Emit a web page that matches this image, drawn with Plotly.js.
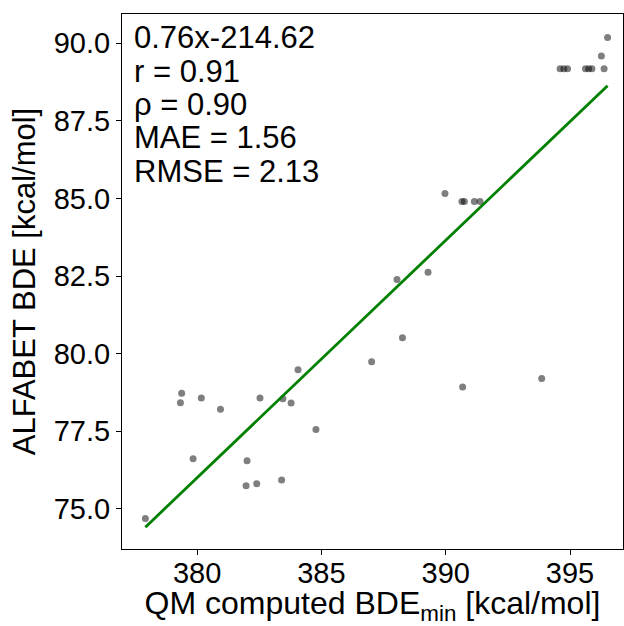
<!DOCTYPE html>
<html>
<head>
<meta charset="utf-8">
<script src="https://cdn.plot.ly/plotly-3.0.1.min.js"></script>
<style>
  html, body { margin: 0; padding: 0; background: #fff; }
  #chart { width: 624px; height: 626px; }
</style>
</head>
<body>
<div id="chart"></div>
<script>
// QM computed minimum BDE (kcal/mol) for each molecule
const qmBde = [
  377.92, 379.38, 379.33, 380.17, 380.94, 379.84, 382.53, 383.45, 383.78, 384.06,
  384.78, 382.01, 381.97, 382.40, 383.40,
  389.97, 390.65, 390.75, 391.15, 391.38, 388.04, 389.29, 388.26, 387.02, 390.68, 393.86,
  396.51, 396.26, 394.60, 394.75, 394.90, 395.62, 395.75, 395.88, 396.37
];
// ALFABET predicted BDE (kcal/mol) for the same molecules
const alfabetBde = [
  74.69, 78.73, 78.42, 78.57, 78.21, 76.62, 78.57, 78.55, 78.41, 79.48,
  77.56, 76.55, 75.75, 75.81, 75.93,
  85.16, 84.90, 84.90, 84.90, 84.90, 82.39, 82.62, 80.51, 79.74, 78.93, 79.20,
  90.18, 89.59, 89.18, 89.18, 89.18, 89.18, 89.18, 89.18, 89.18
];

// Linear fit and agreement statistics
const fitSlope = 0.7648;
const fitIntercept = -214.62;
const statR = 0.91;
const statRho = 0.90;
const statMae = 1.56;
const statRmse = 2.13;

const yTicks = [75.0, 77.5, 80.0, 82.5, 85.0, 87.5, 90.0];
const xTicks = [380, 385, 390, 395];

// fitted line evaluated at each measured x, in increasing order
const fitX = qmBde.slice().sort((a, b) => a - b);
const fitY = fitX.map(v => fitSlope * v + fitIntercept);

const font = "Liberation Sans, Arial, Helvetica, sans-serif";

const traces = [
  {
    x: qmBde, y: alfabetBde, type: 'scatter', mode: 'markers',
    marker: { color: 'rgba(0,0,0,0.5)', size: 7, line: { width: 0 } },
    hoverinfo: 'x+y', showlegend: false
  },
  {
    x: fitX, y: fitY, type: 'scatter', mode: 'lines',
    line: { color: 'rgb(0,128,0)', width: 2.8 },
    hoverinfo: 'skip', showlegend: false
  }
];

const statLines = [
  `${fitSlope.toFixed(2)}x${fitIntercept.toFixed(2)}`,
  `r = ${statR.toFixed(2)}`,
  `\u03c1 = ${statRho.toFixed(2)}`,
  `MAE = ${statMae.toFixed(2)}`,
  `RMSE = ${statRmse.toFixed(2)}`
];

const plotTop = 14, plotH = 535;
const annotations = statLines.map((t, i) => ({
  text: t, xref: 'paper', yref: 'paper',
  x: 0.02, y: 1 - (24 + i * 33.3) / plotH,
  xanchor: 'left', yanchor: 'middle', showarrow: false,
  font: { family: font, size: 31, color: '#000' }
}));

const axisCommon = {
  showgrid: false, zeroline: false,
  showline: true, linecolor: '#000', linewidth: 1, mirror: true,
  ticks: 'outside', ticklen: 5, tickwidth: 1, tickcolor: '#000',
  tickfont: { family: font, size: 29, color: '#000' }
};

const layout = {
  width: 624, height: 626,
  margin: { l: 122, r: 1, t: plotTop, b: 77, pad: 0 },
  paper_bgcolor: '#fff', plot_bgcolor: '#fff',
  xaxis: Object.assign({}, axisCommon, {
    range: [376.98, 397.13],
    tickvals: xTicks, ticktext: xTicks.map(String),
    ticklabelstandoff: -7,
    title: { text: 'QM computed BDE<sub>min</sub> [kcal/mol]', font: { family: font, size: 32, color: '#000' }, standoff: 2 }
  }),
  yaxis: Object.assign({}, axisCommon, {
    range: [73.71, 90.94],
    tickvals: yTicks, ticktext: yTicks.map(v => v.toFixed(1)),
    title: { text: 'ALFABET BDE [kcal/mol]', font: { family: font, size: 31, color: '#000' }, standoff: 8 }
  }),
  annotations: annotations,
  showlegend: false
};

Plotly.newPlot('chart', traces, layout, { displayModeBar: false, staticPlot: true });
</script>
</body>
</html>
